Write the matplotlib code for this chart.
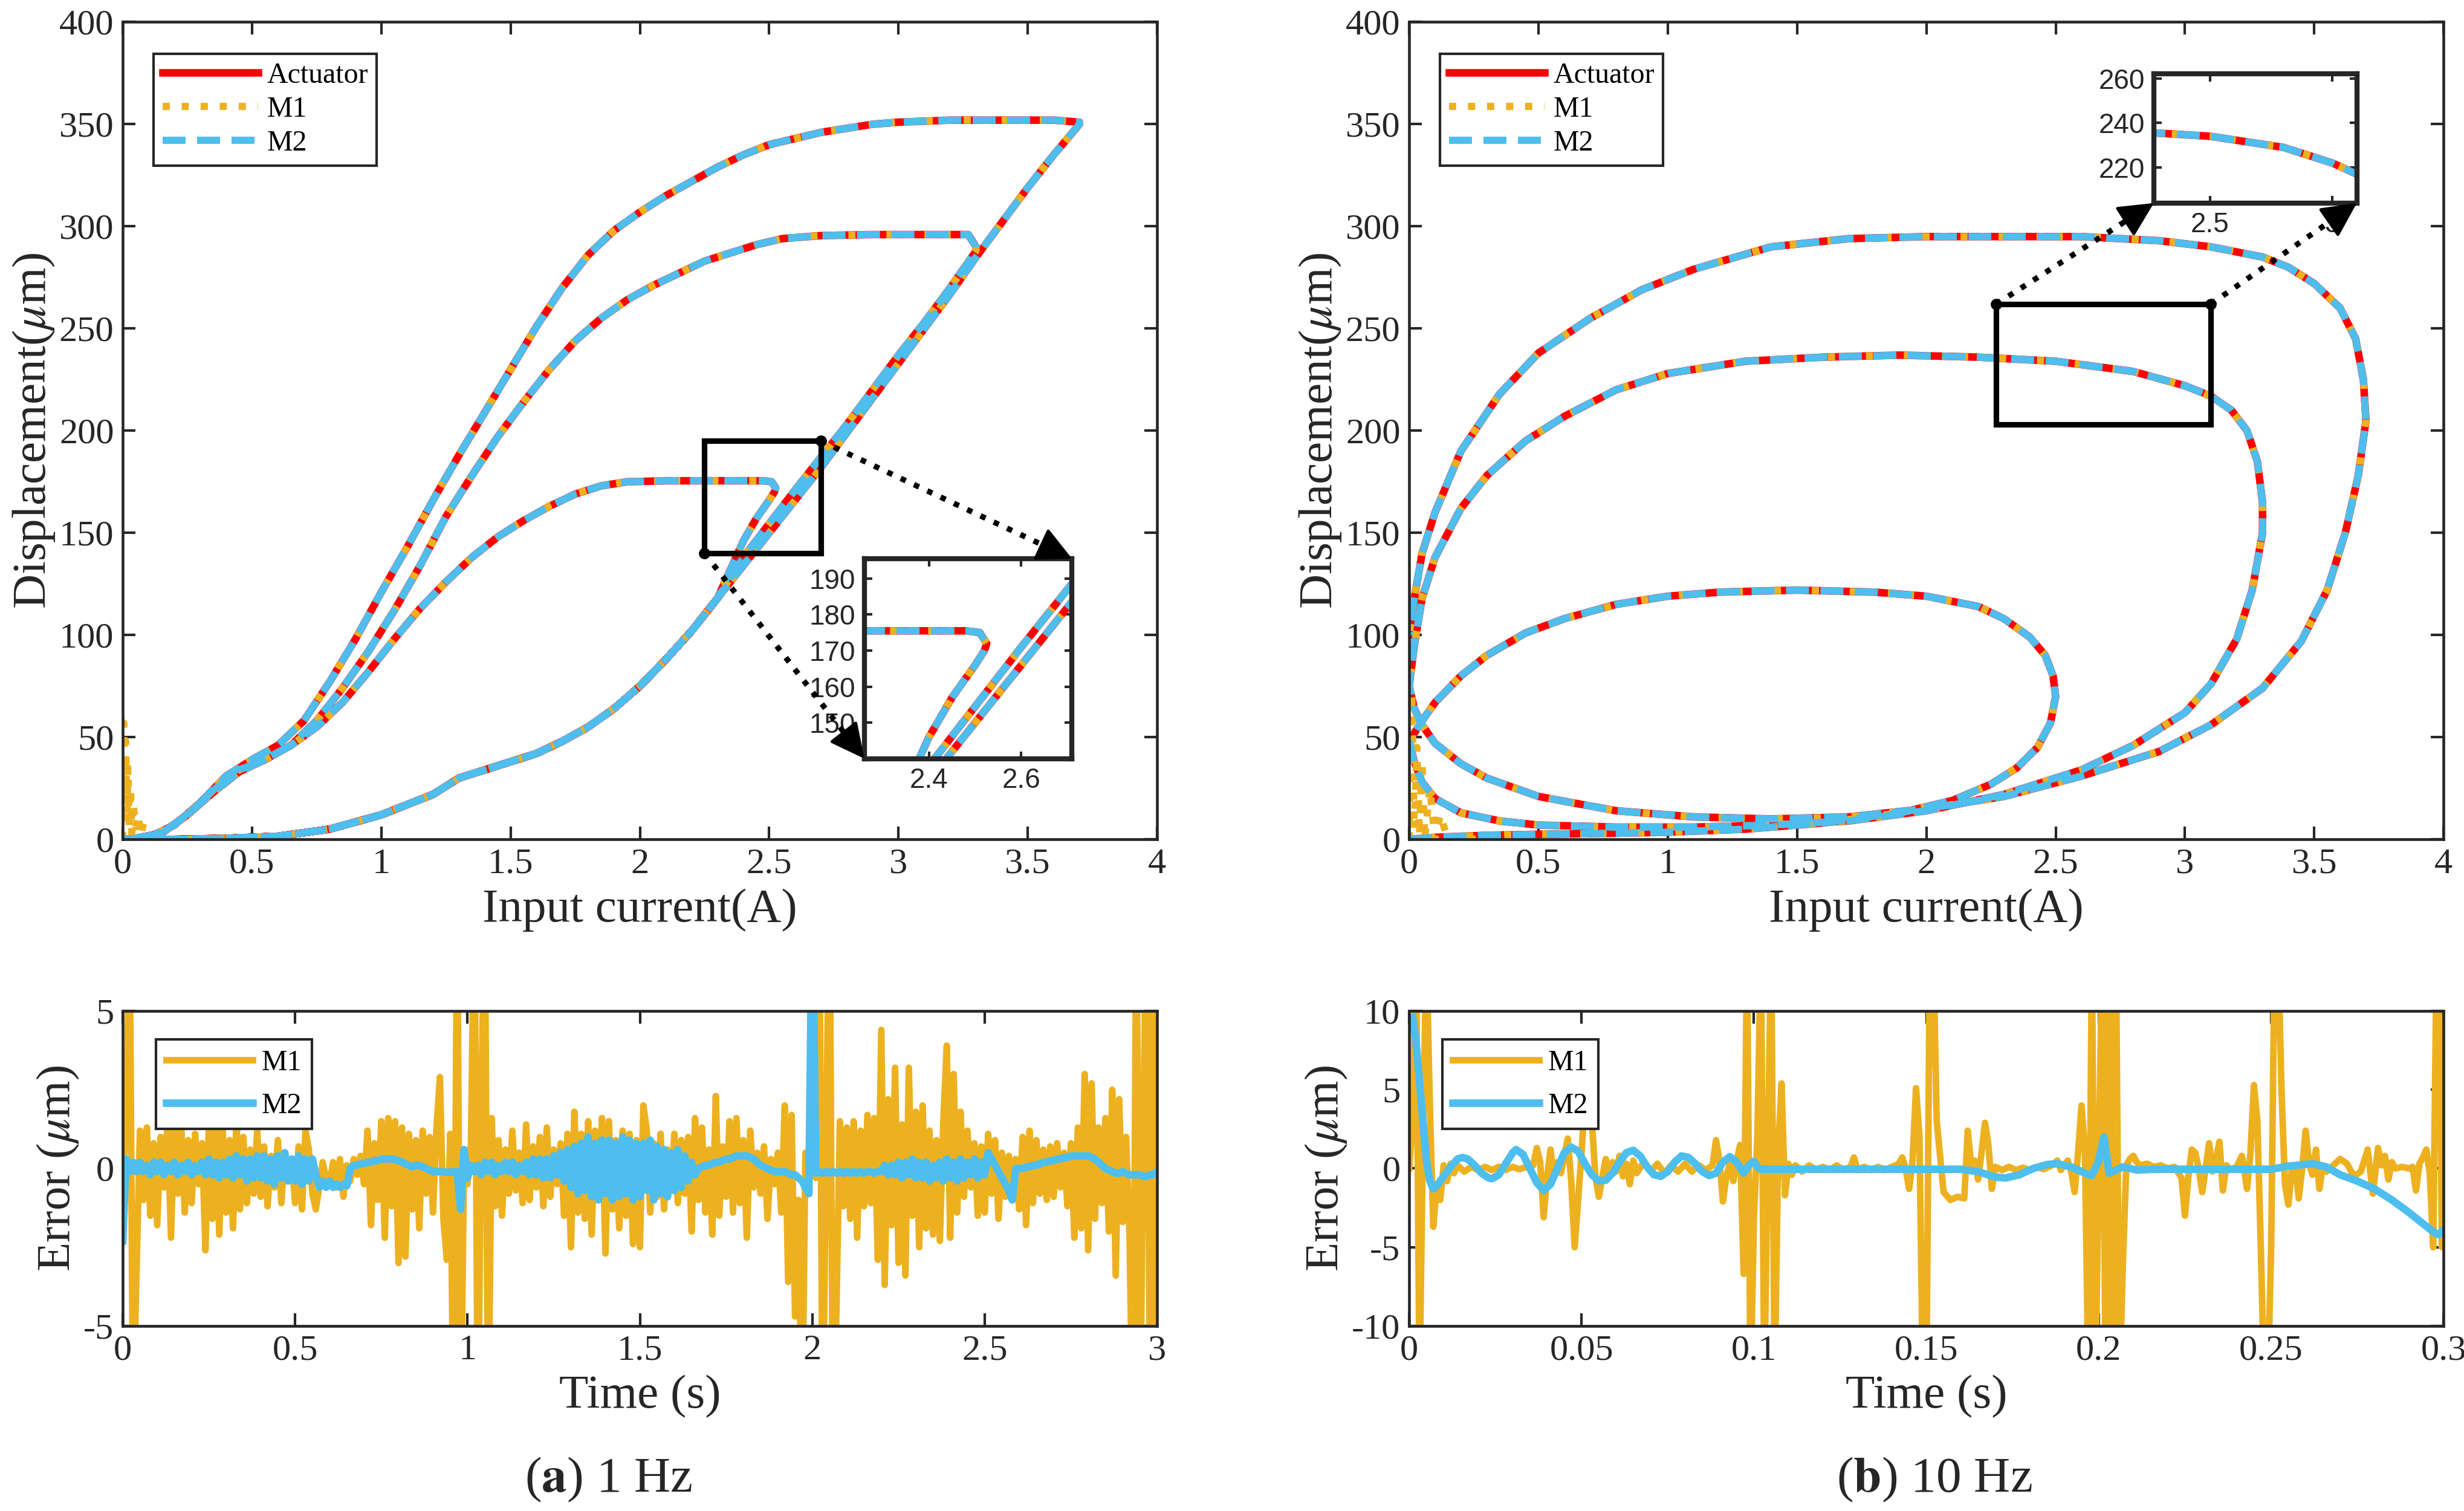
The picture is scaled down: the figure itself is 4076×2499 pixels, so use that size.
import numpy as np
import matplotlib
matplotlib.use("Agg")
import matplotlib.pyplot as plt
from matplotlib.patches import Rectangle, FancyArrowPatch
from matplotlib.lines import Line2D
from matplotlib.ticker import FuncFormatter

plt.rcParams['font.family'] = ['Liberation Serif', 'DejaVu Serif']
plt.rcParams['mathtext.fontset'] = 'stix'

RED = '#FF0000'
ORANGE = '#EDB120'
BLUE = '#4DBEEE'
INK = '#262626'

# ---------------- 1 Hz hysteresis (input current A, displacement um) ----------------
asc_x = [0.0, 0.2, 0.4, 0.6, 0.8, 1.0, 1.2, 1.3, 1.4, 1.5, 1.6, 1.7, 1.8, 1.9, 2.0, 2.1, 2.2, 2.3]
asc_y = [0.0, 0.0, 0.5, 1.5, 5.0, 12.0, 22.0, 30.0, 34.0, 38.0, 42.0, 48.0, 55.0, 64.0, 75.0, 88.0, 102.0, 118.0]
# ascending end of the 2.5 A cycle
up25_x = [2.35, 2.4, 2.45, 2.5, 2.52, 2.525]
up25_y = [132, 146, 157, 166, 170, 172]
# ascending end of the 3.3 A cycle
up33_x = [2.4, 2.5, 2.6, 2.7, 2.8, 2.9, 3.0, 3.1, 3.2, 3.3]
up33_y = [138, 154.5, 171, 187, 203, 220, 237, 253, 270, 288]
# ascending end of the 3.7 A cycle
up37_x = [2.4, 2.5, 2.6, 2.7, 2.8, 2.9, 3.0, 3.1, 3.2, 3.3, 3.4, 3.5, 3.6, 3.7]
up37_y = [134, 150, 166, 182, 199, 216, 233, 250, 267, 285, 302, 319, 335, 350]
# descending branches
dn25_x = [2.525, 2.51, 2.48, 2.3, 2.1, 1.95, 1.85, 1.75, 1.65, 1.55, 1.45, 1.35, 1.25, 1.15,
          1.05, 0.95, 0.85, 0.75, 0.65, 0.55, 0.45, 0.35, 0.25, 0.15, 0.05, 0.0]
dn25_y = [172, 175, 175.5, 175.5, 175.5, 175, 173, 169, 163, 156, 148, 138, 126, 113,
          98, 82, 67, 55, 46, 39, 33, 23, 12, 3, 0.5, 0]
dn33_x = [3.3, 3.27, 3.1, 2.9, 2.7, 2.55, 2.45, 2.35, 2.25, 2.15, 2.05, 1.95, 1.85, 1.75, 1.65,
          1.55, 1.45, 1.35, 1.25, 1.15, 1.05, 0.95, 0.85, 0.75, 0.65, 0.55, 0.45, 0.35, 0.25,
          0.15, 0.05, 0.0]
dn33_y = [290, 296, 296, 296, 295.5, 294, 291, 287, 283, 277, 271, 264, 255, 244, 230,
          214, 197, 178, 158, 134, 112, 92, 74, 58, 46, 39, 34, 24, 12,
          3, 0.5, 0]
dn37_x = [3.7, 3.6, 3.4, 3.2, 3.0, 2.9, 2.8, 2.7, 2.6, 2.5, 2.4, 2.3, 2.2, 2.1, 2.0, 1.9, 1.8,
          1.7, 1.6, 1.5, 1.4, 1.3, 1.2, 1.1, 1.0, 0.9, 0.8, 0.7, 0.6, 0.5, 0.4, 0.3, 0.2, 0.1, 0.0]
dn37_y = [351, 352, 352, 352, 351, 350, 348, 346, 343, 340, 335, 329, 322, 315, 307, 298, 286,
          270, 251, 230, 209, 188, 166, 143, 121, 98, 77, 58, 46, 39, 31, 18, 7, 1, 0]
# M1 start-up transient near the origin
m1_start1_x = [0.0, 0.004, 0.008, 0.012, 0.016, 0.02, 0.025, 0.03, 0.035, 0.04, 0.05, 0.06,
               0.07, 0.08, 0.1, 0.12, 0.15]
m1_start1_y = [0, 57, 15, 48, 8, 35, 5, 25, 3, 18, 6, 12, 2, 8, 1, 4, 0]

# ---------------- 10 Hz hysteresis ----------------
la_up_x = [0.0, 0.1, 0.3, 0.5, 0.8, 1.0, 1.3, 1.6, 1.9, 2.1, 2.25, 2.35, 2.43, 2.48, 2.5]
la_up_y = [0, 1, 2, 2.5, 3, 3.5, 5, 8, 13, 19, 27, 35, 45, 57, 70]
la_dn_x = [2.5, 2.49, 2.46, 2.4, 2.3, 2.2, 2.0, 1.8, 1.5, 1.2, 1.0, 0.8, 0.6, 0.45, 0.3, 0.2,
           0.1, 0.05, 0.0]
la_dn_y = [70, 80, 90, 99, 108, 114, 119, 121, 122, 121, 119, 115, 108, 101, 90, 80,
           67, 58, 48]
lb_up_x = [0.0, 0.02, 0.05, 0.1, 0.2, 0.35, 0.5, 0.8, 1.1, 1.4, 1.7, 2.0, 2.3, 2.6, 2.8, 3.0,
           3.1, 3.2, 3.26, 3.3]
lb_up_y = [48, 38, 28, 20, 13, 9, 7, 6, 6, 7, 9, 14, 22, 34, 46, 62, 76, 98, 122, 150]
lb_dn_x = [3.3, 3.3, 3.28, 3.24, 3.18, 3.1, 3.0, 2.8, 2.5, 2.2, 1.9, 1.6, 1.3, 1.0, 0.8, 0.6,
           0.45, 0.3, 0.2, 0.1, 0.05, 0.02, 0.0]
lb_dn_y = [150, 165, 185, 200, 210, 217, 222, 229, 234, 236, 237, 236, 234, 228, 220, 207,
           195, 178, 162, 138, 118, 95, 75]
lc_up_x = [0.0, 0.02, 0.05, 0.1, 0.2, 0.3, 0.5, 0.8, 1.1, 1.4, 1.7, 2.0, 2.3, 2.6, 2.9, 3.1,
           3.3, 3.45, 3.55, 3.62, 3.67, 3.7]
lc_up_y = [75, 64, 56, 47, 37, 30, 21, 14, 11, 10, 11, 15, 21, 31, 43, 56, 74, 97, 122, 150,
           178, 205]
lc_dn_x = [3.7, 3.69, 3.66, 3.6, 3.5, 3.4, 3.3, 3.1, 2.9, 2.6, 2.3, 2.0, 1.7, 1.4, 1.1, 0.9,
           0.7, 0.5, 0.35, 0.2, 0.1, 0.05, 0.02, 0.0]
lc_dn_y = [205, 225, 245, 260, 272, 280, 285, 290, 293, 295, 295, 295, 294, 290, 279, 269,
           255, 238, 218, 190, 160, 140, 118, 100]
m1_start10_x = [0.0, 0.01, 0.02, 0.03, 0.04, 0.05, 0.06, 0.08, 0.1, 0.12, 0.15, 0.2, 0.25, 0.3]
m1_start10_y = [0, 72, 5, 45, 2, 38, 0, 25, 0, 12, 0, 1, 0, 2]

# ---------------- 1 Hz modelling error (um), sampled every 0.01 s ----------------
err1_m1 = [
    0.0, 1.0, 8.0, -8.0, -3.3, 1.2, -1.0, 1.3, -1.5, 0.8,
    -1.8, 1.0, -0.6, 1.5, -2.2, 1.6, -0.8, 1.3, -1.4, 0.9,
    -1.1, 1.1, -0.5, 0.8, -2.6, 1.4, -1.6, 1.3, -2.1, 1.2,
    -1.4, 0.9, -1.9, 1.6, -1.3, 1.0, -1.1, 0.6, -0.8, 1.2,
    -0.9, 0.7, -1.2, 0.4, -0.6, 0.9, -1.1, 0.5, -0.4, 0.3,
    -1.1, 0.7, -1.3, 1.2, 0.6, -0.8, -1.3, -0.6, 0.2, -0.3,
    -0.5, 0.2, -0.6, 0.3, -0.9, 0.1, -0.4, 0.3, -0.2, 0.4,
    -0.5, 1.2, -1.8, 0.8, -1.0, 1.5, -2.2, 1.6, -1.2, 1.5,
    -3.0, 1.3, -2.8, 1.1, -1.3, 0.9, -1.9, 1.2, -0.8, 1.0,
    -1.4, 1.3, 2.9, -1.6, -2.9, 1.1, -9.0, 9.0, -9.0, 0.3,
    -0.5, 0.8, 9.0, -9.0, 2.0, 9.0, -9.0, 1.6, -1.2, 0.9,
    -1.5, 0.6, -0.8, 1.2, -0.7, 0.5, -1.1, 1.4, -1.0, 0.7,
    -0.6, 1.0, -1.2, 1.3, -0.9, 0.6, -0.5, 0.8, -1.5, 1.1,
    -2.5, 1.8, -1.4, 1.1, -1.6, 1.5, -2.1, 1.2, -1.0, 1.6,
    -2.7, 1.5, -1.3, 0.9, -1.9, 1.2, -1.5, 1.1, -2.4, 0.9,
    -2.5, 2.0, 1.2, -1.4, 0.8, -0.9, 1.1, -1.3, 0.6, -0.7,
    1.1, -1.1, 0.9, -0.8, 1.0, -2.0, 1.6, -1.0, 1.3, -1.4,
    0.6, -2.1, 2.3, -1.5, 0.7, -0.9, 1.5, -1.4, 1.6, -1.1,
    0.9, -2.2, 1.2, -0.6, 0.5, -0.8, 0.7, -1.6, 0.3, -0.5,
    0.5, -1.4, 2.0, -3.6, 1.7, -4.7, -1.0, -9.0, 0.5, -0.3,
    0.2, -0.3, 9.0, -9.0, 1.0, 9.0, -9.0, -4.5, 1.5, -1.2,
    1.3, -1.6, 1.5, -2.2, 1.2, -1.2, 1.7, -1.1, 1.6, -2.9,
    4.4, -3.7, 2.2, -1.8, 3.2, -3.0, 1.4, -3.4, 3.2, -1.5,
    1.8, -2.5, 2.0, -1.9, 1.2, -2.1, 0.9, -2.3, 1.5, 3.9,
    -2.2, 3.0, -1.4, 1.8, -0.9, 1.2, -0.6, 0.8, -1.5, 0.7,
    -1.4, 1.1, -0.8, 0.9, -1.6, 0.5, -0.9, 0.4, -0.6, 0.3,
    -1.3, 1.0, -1.8, 1.2, -1.1, 0.9, -0.8, 0.6, -1.0, 0.7,
    -0.9, 0.8, -0.6, 0.5, -1.2, 0.8, -2.2, 1.3, -1.9, 3.0,
    -2.6, 2.7, -1.6, 1.3, -1.1, 1.6, -2.0, 2.5, -3.4, 2.2,
    -1.7, 1.0, -2.1, -9.0, 9.0, -9.0, 1.2, 9.0, -9.0, 9.0,
    -9.0,
]
err1_m2 = [
    -2.3, 0.3, -0.1, 0.2, -0.1, 0.2, -0.1, 0.1, -0.2, 0.2,
    -0.1, 0.2, -0.2, 0.1, -0.1, 0.2, -0.2, 0.1, -0.1, 0.2,
    -0.2, 0.1, -0.1, 0.2, -0.2, 0.3, -0.2, 0.2, -0.3, 0.2,
    -0.2, 0.3, -0.3, 0.4, -0.2, 0.3, -0.4, 0.3, -0.3, 0.4,
    -0.3, 0.4, -0.4, 0.3, -0.5, 0.4, -0.3, 0.5, -0.4, 0.3,
    -0.4, 0.4, -0.5, 0.3, -0.4, 0.3, -0.2, -0.6, -0.4, -0.6,
    -0.4, -0.6, -0.5, -0.6, -0.5, -0.55, 0.0, 0.1, 0.1, 0.15,
    0.15, 0.2, 0.2, 0.25, 0.25, 0.3, 0.3, 0.3, 0.3, 0.28,
    0.25, 0.2, 0.15, 0.1, 0.05, 0.1, 0.1, 0.05, 0.0, -0.05,
    -0.1, -0.1, -0.1, -0.1, -0.12, -0.12, -0.1, -0.1, -1.3, 0.6,
    -0.3, 0.1, -0.1, 0.1, -0.2, 0.2, -0.1, 0.2, -0.2, 0.1,
    -0.1, 0.2, -0.1, 0.2, -0.2, 0.1, -0.1, 0.2, -0.2, 0.3,
    -0.2, 0.3, -0.3, 0.3, -0.3, 0.4, -0.2, 0.5, -0.4, 0.6,
    -0.6, 0.7, -0.8, 0.8, -0.7, 1.0, -0.9, 0.8, -1.0, 0.9,
    -0.8, 0.9, -1.0, 0.8, -0.9, 1.0, -0.8, 0.9, -1.0, 0.8,
    -0.9, 0.8, -0.7, 0.9, -1.0, 0.7, -0.8, 0.6, -0.9, 0.5,
    -0.7, 0.6, -0.6, 0.4, -0.4, 0.2, -0.2, 0.0, 0.05, 0.1,
    0.1, 0.15, 0.2, 0.2, 0.25, 0.3, 0.3, 0.35, 0.4, 0.4,
    0.4, 0.4, 0.35, 0.3, 0.2, 0.1, 0.05, 0.0, -0.05, -0.1,
    -0.1, -0.1, -0.1, -0.15, -0.2, -0.2, -0.3, -0.4, -0.6, -0.8,
    9.0, -0.15, -0.1, -0.15, -0.1, -0.15, -0.1, -0.15, -0.1, -0.15,
    -0.1, -0.15, -0.1, -0.15, -0.1, -0.15, -0.1, -0.1, -0.15, -0.1,
    -0.1, 0.1, -0.2, 0.1, -0.2, 0.2, -0.3, 0.2, -0.2, 0.3,
    -0.3, 0.2, -0.3, 0.2, -0.4, 0.1, -0.3, 0.2, -0.4, 0.3,
    -0.3, 0.2, -0.4, 0.3, -0.3, 0.2, -0.2, 0.3, -0.3, 0.2,
    -0.2, 0.5, 0.3, 0.1, -0.1, -0.3, -0.5, -0.7, -1.0, 0.0,
    0.0, 0.0, 0.05, 0.05, 0.1, 0.1, 0.15, 0.2, 0.2, 0.25,
    0.25, 0.3, 0.3, 0.35, 0.35, 0.4, 0.4, 0.4, 0.4, 0.4,
    0.4, 0.35, 0.3, 0.2, 0.1, 0.0, -0.05, -0.1, -0.15, -0.15,
    -0.1, -0.15, -0.2, -0.2, -0.2, -0.2, -0.25, -0.25, -0.2, -0.2,
    -0.1,
]

# ---------------- 10 Hz modelling error (time s, error um) ----------------
err10_m1 = [
    (0.000, 0.0), (0.001, 3.0), (0.002, 14), (0.003, -14), (0.004, 2.0), (0.005, 14),
    (0.006, 4.0), (0.007, -3.7), (0.008, -1.0), (0.009, -2.0), (0.010, 0.2), (0.011, -0.8),
    (0.012, 0.3), (0.013, -0.3), (0.014, 0.2), (0.016, -0.2), (0.018, 0.1), (0.020, -0.1),
    (0.022, 0.1), (0.024, -0.1), (0.026, 0.1), (0.028, -0.1), (0.030, 0.1), (0.032, -0.05),
    (0.034, 0.1), (0.036, 0.2), (0.037, 1.3), (0.038, 0.4), (0.039, -3.1), (0.040, -0.5),
    (0.041, 1.2), (0.042, -0.5), (0.043, 0.4), (0.044, -0.3), (0.045, 0.8), (0.046, 1.9),
    (0.047, -0.8), (0.048, -5.0), (0.049, -2.0), (0.050, 1.0), (0.051, 4.5), (0.052, 5.6),
    (0.053, 3.0), (0.054, -0.5), (0.055, -1.8), (0.056, -0.6), (0.057, 0.6), (0.058, -0.3),
    (0.059, 0.4), (0.060, -0.2), (0.061, 0.8), (0.062, -0.5), (0.063, 0.3), (0.064, -1.0),
    (0.065, 0.5), (0.066, -0.3), (0.068, 0.4), (0.070, -0.2), (0.072, 0.3), (0.074, -0.3),
    (0.076, 0.2), (0.078, -0.2), (0.080, 0.3), (0.082, -0.2), (0.084, 0.2), (0.086, -0.1),
    (0.088, 0.2), (0.089, 1.8), (0.090, 0.5), (0.091, -2.1), (0.092, -0.5), (0.093, 0.3),
    (0.094, -0.8), (0.095, 0.5), (0.096, 1.5), (0.097, -6.7), (0.098, 14), (0.099, -14),
    (0.100, -3.0), (0.101, 2.0), (0.102, 14), (0.103, -14), (0.104, 1.0), (0.105, 14),
    (0.106, -14), (0.107, 1.0), (0.108, 5.4), (0.109, -1.7), (0.110, 0.3), (0.111, -0.4),
    (0.112, 0.2), (0.114, -0.2), (0.116, 0.2), (0.118, -0.1), (0.120, 0.1), (0.122, -0.1),
    (0.124, 0.2), (0.126, -0.1), (0.128, 0.1), (0.129, 0.7), (0.130, -0.1), (0.132, 0.1),
    (0.134, -0.1), (0.136, 0.1), (0.138, -0.1), (0.140, 0.1), (0.142, 0.3), (0.143, 0.7),
    (0.144, 0.0), (0.145, -1.3), (0.146, 0.5), (0.147, 5.1), (0.148, 2.0), (0.149, -14),
    (0.150, -14), (0.151, 14), (0.152, 14), (0.153, 3.0), (0.155, -1.5), (0.157, -2.0),
    (0.159, -1.8), (0.161, -1.9), (0.162, 2.4), (0.163, 0.2), (0.164, 0.5), (0.165, -0.7),
    (0.166, 1.0), (0.167, 2.9), (0.168, 1.5), (0.169, -1.3), (0.170, 0.1), (0.172, -0.1),
    (0.174, 0.1), (0.176, -0.1), (0.178, 0.05), (0.180, -0.1), (0.182, 0.1), (0.184, -0.05),
    (0.186, 0.15), (0.188, 0.5), (0.189, -0.1), (0.190, 0.2), (0.191, 0.5), (0.192, -0.2),
    (0.193, -1.5), (0.194, 1.0), (0.195, 4.0), (0.196, 1.0), (0.197, -14), (0.198, 14),
    (0.199, -14), (0.200, 0.0), (0.201, 14), (0.202, -14), (0.203, 14), (0.204, -14),
    (0.205, 14), (0.206, -14), (0.207, -6.0), (0.208, 0.2), (0.209, 0.6), (0.210, 0.8),
    (0.211, 0.4), (0.212, 0.2), (0.214, 0.3), (0.216, 0.1), (0.218, 0.2), (0.220, 0.0),
    (0.222, 0.1), (0.224, -0.6), (0.225, -3.0), (0.226, -0.5), (0.227, 1.2), (0.228, 1.0),
    (0.229, 0.0), (0.230, -1.5), (0.231, 0.0), (0.232, 1.6), (0.233, -0.2), (0.234, 0.6),
    (0.235, 1.7), (0.236, -1.4), (0.237, 0.2), (0.238, -0.1), (0.240, 0.1), (0.2415, 0.8),
    (0.242, 0.2), (0.243, -1.3), (0.244, 1.0), (0.245, 5.3), (0.246, 3.0), (0.247, -5.0),
    (0.248, -14), (0.249, -14), (0.250, -5.0), (0.251, 14), (0.252, 14), (0.253, 5.0),
    (0.254, -1.0), (0.255, -2.3), (0.256, 0.0), (0.257, 0.2), (0.258, -1.9), (0.259, 0.0),
    (0.260, 2.4), (0.261, 0.3), (0.262, -0.4), (0.263, 1.2), (0.264, -1.3), (0.265, 0.2),
    (0.266, -0.2), (0.268, 0.2), (0.270, 0.6), (0.272, 0.3), (0.274, -0.5), (0.276, -0.2),
    (0.278, 1.2), (0.2795, -1.6), (0.281, 1.3), (0.282, 0.2), (0.283, 0.8), (0.284, -0.7),
    (0.285, 0.4), (0.286, 0.0), (0.288, 0.1), (0.290, 0.0), (0.291, 0.1), (0.292, -1.4),
    (0.293, 0.3), (0.294, 0.7), (0.295, 1.2), (0.296, -0.3), (0.297, -5.0), (0.298, 14),
    (0.299, 8.0), (0.2995, -5.0), (0.300, -4.0),
]
err10_m2 = [
    (0.001, 9.6), (0.002, 8.0), (0.003, 5.5), (0.004, 3.0), (0.005, 0.5), (0.006, -0.8),
    (0.007, -1.3), (0.008, -1.1), (0.010, -0.5), (0.012, 0.1), (0.014, 0.6), (0.0155, 0.7),
    (0.017, 0.6), (0.019, 0.2), (0.021, -0.3), (0.023, -0.6), (0.024, -0.65), (0.026, -0.4),
    (0.028, 0.3), (0.030, 1.0), (0.031, 1.2), (0.033, 0.9), (0.035, 0.0), (0.037, -0.9),
    (0.039, -1.4), (0.041, -1.0), (0.043, 0.0), (0.045, 1.0), (0.047, 1.35), (0.049, 1.1),
    (0.051, 0.3), (0.053, -0.4), (0.055, -0.8), (0.057, -0.75), (0.059, -0.3), (0.061, 0.4),
    (0.063, 1.0), (0.065, 1.15), (0.067, 0.8), (0.069, 0.1), (0.071, -0.4), (0.073, -0.5),
    (0.075, -0.2), (0.077, 0.4), (0.079, 0.8), (0.081, 0.7), (0.083, 0.3), (0.085, -0.2),
    (0.087, -0.45), (0.089, -0.3), (0.091, 0.4), (0.093, 0.75), (0.095, 0.4), (0.097, -0.3),
    (0.0985, 0.2), (0.100, 0.45), (0.101, 0.1), (0.102, -0.05), (0.160, -0.05), (0.165, -0.2),
    (0.170, -0.55), (0.173, -0.6), (0.177, -0.4), (0.181, 0.0), (0.185, 0.25), (0.188, 0.3),
    (0.192, 0.1), (0.196, -0.3), (0.198, -0.45), (0.200, 0.5), (0.2015, 2.0), (0.203, -0.3),
    (0.207, 0.1), (0.211, -0.1), (0.216, -0.05), (0.250, -0.05), (0.255, 0.15), (0.262, 0.3),
    (0.266, 0.1), (0.270, -0.4), (0.275, -0.8), (0.280, -1.3), (0.285, -2.0), (0.290, -2.8),
    (0.294, -3.5), (0.2975, -4.1), (0.2985, -4.2), (0.300, -3.9),
]

# ---------------- assemble paths ----------------
path1_x = (asc_x + up25_x + dn25_x + asc_x + up33_x + dn33_x + asc_x + up37_x + dn37_x)
path1_y = (asc_y + up25_y + dn25_y + asc_y + up33_y + dn33_y + asc_y + up37_y + dn37_y)
path10_x = la_up_x + la_dn_x + lb_up_x + lb_dn_x + lc_up_x + lc_dn_x
path10_y = la_up_y + la_dn_y + lb_up_y + lb_dn_y + lc_up_y + lc_dn_y

fmt = FuncFormatter(lambda v, _: f"{v:g}")


def style_axes(ax, size=14.5):
    ax.tick_params(direction='in', top=True, right=True, length=5, width=1.0,
                   labelsize=size, colors=INK)
    for s in ax.spines.values():
        s.set_linewidth(1.1)
        s.set_color(INK)
    ax.xaxis.set_major_formatter(fmt)
    ax.yaxis.set_major_formatter(fmt)


def draw_loops(ax, x, y, sx, sy, lw=3.0):
    ax.plot(x, y, color=RED, lw=lw, label='Actuator')
    ax.plot(x, y, color=ORANGE, lw=lw * 0.95, ls=':', label='M1')
    ax.plot(sx, sy, color=ORANGE, lw=lw * 0.95, ls=':')
    ax.plot(x, y, color=BLUE, lw=lw * 0.95, ls='--', dashes=(3.2, 1.6), label='M2')


fig = plt.figure(figsize=(4076 / 300, 2499 / 300), dpi=300)
ax1 = fig.add_axes([0.0498, 0.4445, 0.4198, 0.5409])
ax2 = fig.add_axes([0.5719, 0.4445, 0.4198, 0.5409])
ax3 = fig.add_axes([0.0498, 0.1225, 0.4198, 0.2084])
ax4 = fig.add_axes([0.5719, 0.1225, 0.4198, 0.2084])

for ax, (px, py, sx, sy) in zip([ax1, ax2], [(path1_x, path1_y, m1_start1_x, m1_start1_y),
                                             (path10_x, path10_y, m1_start10_x, m1_start10_y)]):
    draw_loops(ax, px, py, sx, sy)
    ax.set_xlim(0, 4)
    ax.set_ylim(0, 400)
    ax.set_xticks(np.arange(0, 4.01, 0.5))
    ax.set_yticks(np.arange(0, 401, 50))
    style_axes(ax)
    ax.set_xlabel('Input current(A)', fontsize=19, color=INK, labelpad=3)
    ax.set_ylabel(r'Displacement($\mu$m)', fontsize=19, color=INK, labelpad=1)
    leg = ax.legend(loc='upper left', bbox_to_anchor=(0.016, 0.979), fontsize=11.5,
                    handlelength=3.3, labelspacing=0.25, borderpad=0.3,
                    handletextpad=0.3, fancybox=False, framealpha=1)
    leg.get_frame().set_edgecolor(INK)
    leg.get_frame().set_linewidth(1.0)

# zoom boxes
ax1.add_patch(Rectangle((2.25, 140), 0.45, 55, fill=False, ec='k', lw=2.2, zorder=6))
ax2.add_patch(Rectangle((2.27, 203), 0.83, 59, fill=False, ec='k', lw=2.2, zorder=6))

in1 = fig.add_axes([0.3508, 0.4979, 0.0843, 0.1323])
in2 = fig.add_axes([0.8741, 0.8656, 0.0824, 0.0855])
for axin, (px, py), xl, yl, xt, yt in [
        (in1, (path1_x, path1_y), (2.26, 2.71), (140, 195.5), [2.4, 2.6], [150, 160, 170, 180, 190]),
        (in2, (path10_x, path10_y), (2.27, 3.1), (204, 262), [2.5, 3.0], [220, 240, 260])]:
    draw_loops(axin, px, py, [], [])
    axin.set_xlim(*xl)
    axin.set_ylim(*yl)
    axin.set_xticks(xt)
    axin.set_yticks(yt)
    style_axes(axin, size=11)
    axin.tick_params(length=3)
    for lab in axin.get_xticklabels() + axin.get_yticklabels():
        lab.set_family('Liberation Sans')
    for s in axin.spines.values():
        s.set_linewidth(2.0)

# dotted connector arrows: dotted shaft + solid head, in figure fraction
to_fig = fig.transFigure.inverted()
for axm, xy, axin, corner in [(ax1, (2.7, 195), in1, (1, 1)), (ax1, (2.25, 140), in1, (0, 0)),
                              (ax2, (2.27, 262), in2, (0, 0)), (ax2, (3.1, 262), in2, (1, 0))]:
    p0 = np.array(to_fig.transform(axm.transData.transform(xy)))
    p1 = np.array(to_fig.transform(axin.transAxes.transform(corner)))
    pm = p0 + (p1 - p0) * 0.88
    fig.add_artist(Line2D([p0[0], pm[0]], [p0[1], pm[1]], transform=fig.transFigure,
                          color='k', lw=2.2, ls=':', zorder=10))
    fig.add_artist(FancyArrowPatch(pm, p1, transform=fig.transFigure,
                                   arrowstyle='-|>,head_length=0.7,head_width=0.35',
                                   mutation_scale=17, color='k', lw=1.2,
                                   shrinkA=0, shrinkB=0, zorder=10))
    axm.plot(*xy, 'o', color='k', ms=3.5, zorder=7, clip_on=False)

# error plots
t1 = np.linspace(0, 3, len(err1_m1))
ax3.plot(t1, err1_m1, color=ORANGE, lw=2.6, label='M1')
ax3.plot(t1, err1_m2, color=BLUE, lw=3.0, label='M2')
ax3.set_xlim(0, 3)
ax3.set_ylim(-5, 5)
ax3.set_xticks(np.arange(0, 3.01, 0.5))
ax3.set_yticks([-5, 0, 5])

t10a, v10a = zip(*err10_m1)
t10b, v10b = zip(*err10_m2)
ax4.plot(t10a, v10a, color=ORANGE, lw=2.6, label='M1')
ax4.plot(t10b, v10b, color=BLUE, lw=3.0, label='M2')
ax4.set_xlim(0, 0.3)
ax4.set_ylim(-10, 10)
ax4.set_xticks(np.arange(0, 0.301, 0.05))
ax4.set_yticks([-10, -5, 0, 5, 10])

for ax in [ax3, ax4]:
    style_axes(ax)
    ax.set_xlabel('Time (s)', fontsize=19, color=INK, labelpad=3)
    ax.set_ylabel(r'Error ($\mu$m)', fontsize=19, color=INK, labelpad=1)
    leg = ax.legend(loc='upper left', bbox_to_anchor=(0.018, 0.955), fontsize=11.5,
                    handlelength=3.0, labelspacing=0.55, borderpad=0.35,
                    handletextpad=0.3, fancybox=False, framealpha=1)
    leg.get_frame().set_edgecolor(INK)
    leg.get_frame().set_linewidth(1.0)

fig.text(0.247, 0.0205, r'($\mathbf{a}$) 1 Hz', ha='center', va='center', fontsize=20, color=INK)
fig.text(0.785, 0.0205, r'($\mathbf{b}$) 10 Hz', ha='center', va='center', fontsize=20, color=INK)

fig.savefig('out.png', dpi=300)
